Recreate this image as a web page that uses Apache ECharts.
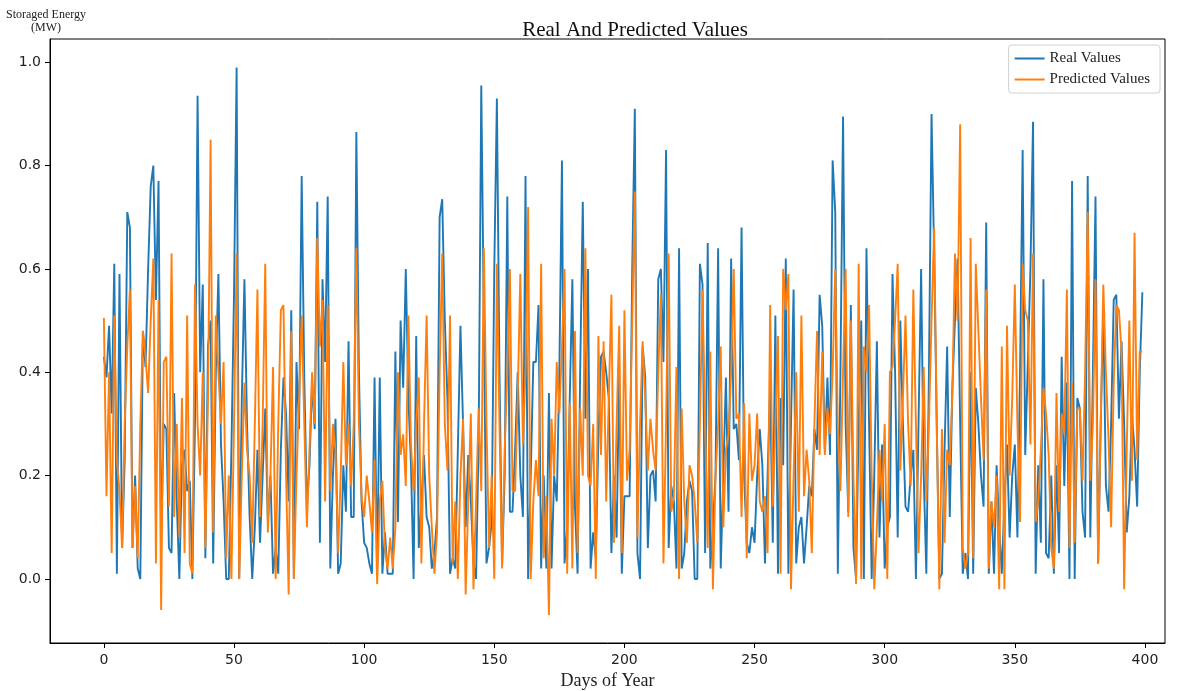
<!DOCTYPE html>
<html>
<head>
<meta charset="utf-8">
<script src="https://cdn.jsdelivr.net/npm/echarts@6/dist/echarts.min.js"></script>
<style>html,body{margin:0;padding:0;background:#fff;}#chart{width:1188px;height:691px;}</style>
</head>
<body>
<div id="chart"></div>
<script>
const realValues = [
0.43,0.39,0.49,0.32,0.61,0.01,0.59,0.06,0.23,0.71,
0.68,0.06,0.20,0.02,0.00,0.48,0.41,0.60,0.76,0.80,
0.54,0.77,0.08,0.30,0.29,0.06,0.05,0.36,0.15,0.00,
0.22,0.25,0.17,0.19,0.00,0.30,0.935,0.40,0.57,0.04,
0.45,0.50,0.03,0.40,0.59,0.26,0.15,0.00,0.00,0.25,
0.55,0.99,0.00,0.35,0.58,0.30,0.12,0.00,0.10,0.25,
0.07,0.20,0.33,0.11,0.20,0.01,0.06,0.01,0.25,0.39,
0.32,0.15,0.52,0.00,0.42,0.29,0.78,0.39,0.14,0.22,
0.38,0.29,0.73,0.07,0.58,0.42,0.74,0.02,0.20,0.31,
0.01,0.03,0.22,0.13,0.46,0.12,0.12,0.865,0.40,0.15,
0.07,0.06,0.03,0.01,0.39,0.01,0.39,0.01,0.09,0.01,
0.01,0.01,0.44,0.11,0.50,0.37,0.60,0.35,0.22,0.00,
0.47,0.06,0.15,0.24,0.12,0.10,0.02,0.05,0.12,0.70,
0.735,0.50,0.35,0.01,0.04,0.02,0.25,0.49,0.30,0.10,
0.24,0.15,0.03,0.00,0.27,0.955,0.50,0.03,0.06,0.11,
0.60,0.93,0.40,0.03,0.20,0.74,0.13,0.13,0.25,0.40,
0.20,0.12,0.78,0.00,0.20,0.42,0.42,0.53,0.02,0.20,
0.02,0.36,0.02,0.20,0.15,0.40,0.81,0.03,0.10,0.35,
0.58,0.14,0.01,0.40,0.73,0.31,0.60,0.02,0.09,0.04,
0.27,0.43,0.44,0.40,0.35,0.05,0.20,0.08,0.40,0.01,
0.16,0.16,0.16,0.60,0.91,0.05,0.00,0.45,0.39,0.06,
0.20,0.21,0.15,0.58,0.60,0.42,0.83,0.06,0.18,0.15,
0.02,0.64,0.02,0.05,0.15,0.19,0.17,0.00,0.00,0.61,
0.57,0.05,0.65,0.02,0.10,0.20,0.64,0.02,0.20,0.39,
0.13,0.62,0.29,0.30,0.23,0.68,0.20,0.07,0.05,0.10,
0.07,0.20,0.29,0.22,0.03,0.20,0.37,0.07,0.51,0.01,
0.35,0.22,0.62,0.01,0.30,0.56,0.03,0.10,0.12,0.03,
0.10,0.18,0.16,0.29,0.25,0.55,0.49,0.25,0.39,0.24,
0.81,0.71,0.01,0.40,0.895,0.30,0.13,0.53,0.06,0.00,
0.30,0.50,0.00,0.64,0.30,0.00,0.20,0.46,0.08,0.26,
0.02,0.10,0.12,0.59,0.40,0.08,0.50,0.30,0.14,0.13,
0.20,0.25,0.00,0.30,0.60,0.20,0.01,0.40,0.90,0.63,
0.30,0.00,0.01,0.25,0.45,0.12,0.37,0.50,0.62,0.30,
0.01,0.05,0.00,0.40,0.01,0.37,0.30,0.20,0.14,0.69,
0.01,0.15,0.01,0.22,0.10,0.01,0.15,0.26,0.08,0.20,
0.26,0.08,0.40,0.83,0.24,0.42,0.60,0.885,0.01,0.22,
0.07,0.58,0.05,0.04,0.20,0.01,0.22,0.05,0.43,0.18,
0.38,0.00,0.77,0.00,0.35,0.33,0.13,0.08,0.78,0.08,
0.40,0.74,0.03,0.30,0.52,0.18,0.13,0.30,0.54,0.55,
0.31,0.46,0.30,0.09,0.16,0.32,0.25,0.14,0.40,0.555
];
const predictedValues = [
0.505,0.16,0.40,0.05,0.51,0.23,0.17,0.06,0.30,0.45,
0.56,0.06,0.18,0.04,0.30,0.48,0.43,0.36,0.50,0.62,
0.03,0.54,-0.06,0.42,0.43,0.14,0.63,0.12,0.30,0.08,
0.35,0.05,0.51,0.03,0.01,0.57,0.30,0.20,0.40,0.06,
0.35,0.85,0.09,0.51,0.40,0.30,0.42,0.04,0.20,0.00,
0.30,0.63,0.00,0.20,0.38,0.25,0.20,0.07,0.30,0.56,
0.12,0.30,0.61,0.09,0.20,0.41,0.00,0.30,0.52,0.53,
0.20,-0.03,0.48,0.00,0.20,0.35,0.51,0.30,0.10,0.25,
0.40,0.30,0.66,0.45,0.54,0.15,0.53,0.17,0.30,0.25,
0.05,0.20,0.42,0.22,0.30,0.18,0.30,0.64,0.30,0.16,
0.12,0.20,0.15,0.09,0.23,-0.01,0.15,0.19,0.06,0.02,
0.08,0.02,0.10,0.40,0.24,0.28,0.18,0.51,0.26,0.17,
0.30,0.39,0.03,0.30,0.51,0.20,0.10,0.01,0.09,0.40,
0.63,0.30,0.21,0.51,0.03,0.15,0.00,0.20,0.31,-0.03,
0.15,0.32,-0.02,0.15,0.33,0.17,0.64,0.30,0.06,0.20,
0.00,0.61,0.30,0.02,0.25,0.40,0.60,0.17,0.17,0.35,
0.59,0.26,0.40,0.72,0.00,0.15,0.23,0.16,0.61,0.04,
0.16,-0.07,0.31,0.20,0.42,0.32,0.45,0.60,0.01,0.34,
0.02,0.48,0.05,0.33,0.20,0.64,0.20,0.18,0.30,0.00,
0.47,0.24,0.46,0.15,0.35,0.55,0.07,0.30,0.49,0.05,
0.52,0.19,0.25,0.50,0.75,0.08,0.30,0.46,0.35,0.21,
0.31,0.25,0.21,0.40,0.55,0.03,0.30,0.63,0.13,0.16,
0.41,0.00,0.33,0.15,0.07,0.22,0.20,0.15,0.07,0.30,
0.56,0.30,0.06,0.44,-0.02,0.20,0.30,0.45,0.10,0.25,
0.28,0.40,0.60,0.31,0.32,0.12,0.34,0.04,0.32,0.19,
0.22,0.32,0.15,0.13,0.16,0.05,0.53,0.14,0.30,0.47,
0.01,0.60,0.52,0.59,-0.02,0.20,0.40,0.13,0.51,0.16,
0.25,0.19,0.05,0.30,0.48,0.24,0.44,0.24,0.33,0.28,
0.40,0.60,0.30,0.17,0.40,0.60,0.12,0.50,0.20,-0.01,
0.61,0.00,0.45,0.40,0.53,0.20,-0.02,0.10,0.25,0.15,
0.30,0.00,0.40,0.41,0.50,0.61,0.21,0.35,0.51,0.30,
0.18,0.56,0.30,0.05,0.20,0.41,0.15,0.30,0.50,0.68,
0.30,-0.02,0.29,0.07,0.25,0.22,0.36,0.63,0.50,0.88,
0.06,0.02,0.05,0.66,0.04,0.61,0.48,0.35,0.23,0.56,
0.02,0.15,0.10,0.20,-0.02,0.45,-0.02,0.49,0.20,0.35,
0.57,0.30,0.11,0.61,0.52,0.50,0.26,0.63,0.11,0.15,
0.25,0.37,0.32,0.24,0.06,0.02,0.36,0.13,0.32,0.28,
0.56,0.06,0.38,0.07,0.33,0.33,0.19,0.40,0.71,0.19,
0.30,0.58,0.03,0.30,0.57,0.40,0.27,0.10,0.38,0.53,
0.52,0.44,-0.02,0.25,0.50,0.19,0.67,0.23,0.44,0.44
];
const xTicks = [0, 50, 100, 150, 200, 250, 300, 350, 400];
const yTicks = [0.0, 0.2, 0.4, 0.6, 0.8, 1.0];
const seriesNames = ['Real Values', 'Predicted Values'];

const realData = realValues.map((v, i) => [i, v]);
const predData = predictedValues.map((v, i) => [i, v]);

const serif = 'Liberation Serif';
const chart = echarts.init(document.getElementById('chart'), null, {renderer: 'canvas'});
chart.setOption({
  animation: false,
  backgroundColor: '#fff',
  title: {
    text: 'Real And Predicted Values',
    left: 630, top: 15, textAlign: 'center',
    textStyle: {fontFamily: serif, fontSize: 21, fontWeight: 'normal', color: '#111'}
  },
  legend: {
    data: seriesNames,
    orient: 'vertical',
    right: 28, top: 45,
    icon: 'rect', itemWidth: 30, itemHeight: 2, itemGap: 6,
    padding: [6, 10, 6, 6],
    borderColor: '#d0d0d0', borderWidth: 1, borderRadius: 3,
    textStyle: {fontFamily: serif, fontSize: 15, color: '#222'}
  },
  grid: {
    left: 50, right: 23, top: 39, bottom: 48,
    outerBoundsMode: 'none', containLabel: false,
    show: true, borderColor: '#000', borderWidth: 1, backgroundColor: 'transparent'
  },
  xAxis: {
    type: 'value', min: -20.7, max: 407.7,
    name: 'Days of Year', nameLocation: 'middle', nameGap: 29,
    nameTextStyle: {fontFamily: serif, fontSize: 18, color: '#222'},
    splitLine: {show: false},
    axisLine: {show: true, onZero: false, lineStyle: {color: '#000'}},
    axisTick: {show: true, length: 5, lineStyle: {color: '#000'}, customValues: xTicks},
    axisLabel: {customValues: xTicks, fontFamily: 'DejaVu Sans', fontSize: 14, color: '#222', margin: 10}
  },
  yAxis: {
    type: 'value', min: -0.124, max: 1.045,
    name: 'Storaged Energy\n(MW)', nameLocation: 'end', nameGap: 5,
    nameTextStyle: {fontFamily: serif, fontSize: 12, color: '#222', align: 'center', verticalAlign: 'bottom', lineHeight: 13, padding: [0, 8, 0, 0]},
    splitLine: {show: false},
    axisLine: {show: true, onZero: false, lineStyle: {color: '#000'}},
    axisTick: {show: true, length: 5, lineStyle: {color: '#000'}, customValues: yTicks},
    axisLabel: {customValues: yTicks, formatter: v => v.toFixed(1), fontFamily: 'DejaVu Sans', fontSize: 14, color: '#222', margin: 9}
  },
  series: [
    {name: seriesNames[0], type: 'line', data: realData, showSymbol: false, symbol: 'none',
     lineStyle: {color: '#1f77b4', width: 1.9}, itemStyle: {color: '#1f77b4'}},
    {name: seriesNames[1], type: 'line', data: predData, showSymbol: false, symbol: 'none',
     lineStyle: {color: '#ff7f0e', width: 1.9}, itemStyle: {color: '#ff7f0e'}}
  ]
});
</script>
</body>
</html>
